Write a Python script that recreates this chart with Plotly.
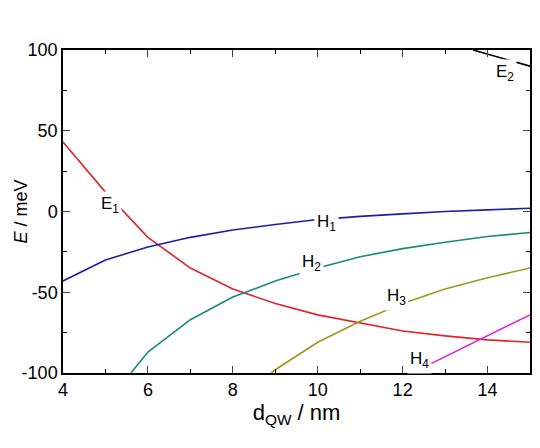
import plotly.graph_objects as go

d_e1 = [4, 5, 6, 7, 8, 9, 10, 11, 12, 13, 14, 15]
e1 = [43, 12, -16, -35, -48, -57, -64, -69, -74, -77, -79.5, -81]

d_h1 = [4, 5, 6, 7, 8, 9, 10, 11, 12, 13, 14, 15]
h1 = [-43, -30, -22, -16, -11.5, -8, -5, -3, -1.5, 0, 1, 2]

d_h2 = [5.6, 6, 7, 8, 9, 10, 11, 12, 13, 14, 15]
h2 = [-100, -87, -67, -53, -43, -35, -28, -23, -19, -15.5, -13]

d_h3 = [8.9, 9, 10, 11, 12, 13, 14, 15]
h3 = [-100, -98, -81, -68, -57, -48, -41, -35]

d_h4 = [12.3, 13, 14, 15]
h4 = [-99, -90, -77, -64]

d_e2 = [13.66, 14, 15]
e2 = [100, 97.5, 90]

x_ticks = [4, 6, 8, 10, 12, 14]
y_ticks = [-100, -50, 0, 50, 100]
y_ticktext = ["-100", "-50", "0", "50", "100"]

labels = ["E<sub>1</sub>", "H<sub>1</sub>", "H<sub>2</sub>", "H<sub>3</sub>", "H<sub>4</sub>", "E<sub>2</sub>"]
label_x = [5.1, 10.2, 9.85, 11.85, 12.4, 14.4]
label_y = [4, -7, -32, -53, -92, 86]

series = [
    (d_e1, e1, "#e0242c"),
    (d_h1, h1, "#1e1ea8"),
    (d_h2, h2, "#1a8a78"),
    (d_h3, h3, "#9a9a1e"),
    (d_h4, h4, "#e020d8"),
    (d_e2, e2, "#000000"),
]

fig = go.Figure()
for xs, ys, c in series:
    fig.add_trace(go.Scatter(x=xs, y=ys, mode="lines", line=dict(color=c, width=1.6),
                             showlegend=False, cliponaxis=True))

for t, lx, ly in zip(labels, label_x, label_y):
    fig.add_annotation(x=lx, y=ly, text=t, showarrow=False, bgcolor="white",
                       borderpad=2, font=dict(size=17, color="black"))

fig.add_annotation(xref="paper", yref="paper", x=-0.09, y=0.5, xanchor="center", yanchor="middle",
                   text="<i>E</i> / meV", textangle=-90, showarrow=False,
                   font=dict(size=18, color="black"))

fig.update_layout(
    width=540, height=448,
    margin=dict(l=55, r=18, t=42, b=83),
    paper_bgcolor="white", plot_bgcolor="white",
    font=dict(family="Liberation Sans, Arial, sans-serif", size=18, color="black"),
)
fig.update_xaxes(range=[4, 15], tickvals=x_ticks, ticks="inside", ticklen=7,
                 showline=True, linecolor="black", linewidth=1.5, mirror="ticks",
                 showgrid=False, zeroline=False, automargin=False,
                 minor=dict(dtick=1, tick0=4, ticks="inside", ticklen=4, tickcolor="black"),
                 title=dict(text="d<sub>QW</sub> / nm", standoff=2))
fig.update_yaxes(range=[-100, 100], tickvals=y_ticks, ticktext=y_ticktext, ticks="inside", ticklen=7,
                 showline=True, linecolor="black", linewidth=1.5, mirror="ticks",
                 showgrid=False, zeroline=False, automargin=False,
                 minor=dict(dtick=25, tick0=0, ticks="inside", ticklen=4, tickcolor="black"))

fig.write_html("out.html")
